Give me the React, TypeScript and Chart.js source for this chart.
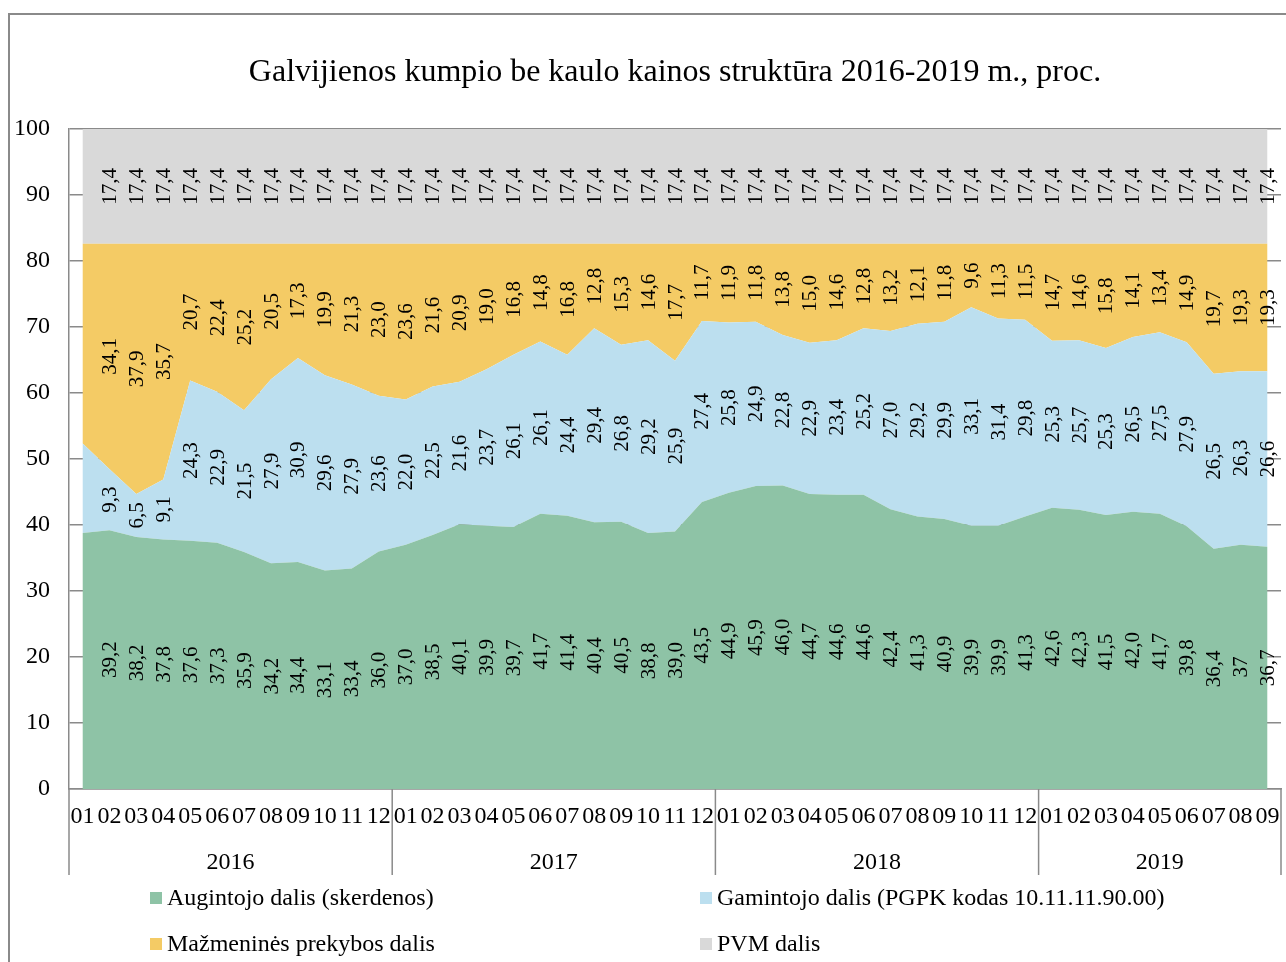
import { useEffect, useRef } from "react";
import { Chart, registerables } from "chart.js";

Chart.register(...registerables);

const FONT = "'Liberation Serif', 'Times New Roman', 'DejaVu Serif', serif";

const TITLE = "Galvijienos kumpio be kaulo kainos struktūra 2016-2019 m., proc.";

const months = [
  "01", "02", "03", "04", "05", "06", "07", "08", "09", "10", "11", "12",
  "01", "02", "03", "04", "05", "06", "07", "08", "09", "10", "11", "12",
  "01", "02", "03", "04", "05", "06", "07", "08", "09", "10", "11", "12",
  "01", "02", "03", "04", "05", "06", "07", "08", "09",
];

const years = ["2016", "2017", "2018", "2019"];
const monthsPerYear = [12, 12, 12, 9];

const seriesNames = [
  "Augintojo dalis (skerdenos)",
  "Gamintojo dalis (PGPK kodas 10.11.11.90.00)",
  "Mažmeninės prekybos dalis",
  "PVM dalis",
];

const augintojo = [
  38.8, 39.2, 38.2, 37.8, 37.6, 37.3, 35.9, 34.2, 34.4, 33.1, 33.4, 36.0,
  37.0, 38.5, 40.1, 39.9, 39.7, 41.7, 41.4, 40.4, 40.5, 38.8, 39.0, 43.5,
  44.9, 45.9, 46.0, 44.7, 44.6, 44.6, 42.4, 41.3, 40.9, 39.9, 39.9, 41.3,
  42.6, 42.3, 41.5, 42.0, 41.7, 39.8, 36.4, 37.0, 36.7,
];

const gamintojo = [
  13.6, 9.3, 6.5, 9.1, 24.3, 22.9, 21.5, 27.9, 30.9, 29.6, 27.9, 23.6,
  22.0, 22.5, 21.6, 23.7, 26.1, 26.1, 24.4, 29.4, 26.8, 29.2, 25.9, 27.4,
  25.8, 24.9, 22.8, 22.9, 23.4, 25.2, 27.0, 29.2, 29.9, 33.1, 31.4, 29.8,
  25.3, 25.7, 25.3, 26.5, 27.5, 27.9, 26.5, 26.3, 26.6,
];

const mazmenine = [
  30.2, 34.1, 37.9, 35.7, 20.7, 22.4, 25.2, 20.5, 17.3, 19.9, 21.3, 23.0,
  23.6, 21.6, 20.9, 19.0, 16.8, 14.8, 16.8, 12.8, 15.3, 14.6, 17.7, 11.7,
  11.9, 11.8, 13.8, 15.0, 14.6, 12.8, 13.2, 12.1, 11.8, 9.6, 11.3, 11.5,
  14.7, 14.6, 15.8, 14.1, 13.4, 14.9, 19.7, 19.3, 19.3,
];

const pvm = [
  17.4, 17.4, 17.4, 17.4, 17.4, 17.4, 17.4, 17.4, 17.4, 17.4, 17.4, 17.4,
  17.4, 17.4, 17.4, 17.4, 17.4, 17.4, 17.4, 17.4, 17.4, 17.4, 17.4, 17.4,
  17.4, 17.4, 17.4, 17.4, 17.4, 17.4, 17.4, 17.4, 17.4, 17.4, 17.4, 17.4,
  17.4, 17.4, 17.4, 17.4, 17.4, 17.4, 17.4, 17.4, 17.4,
];

// first month carries no value labels in the original
const unlabelledIndexes = [0];
// label text shown differently from the default one-decimal format
const labelOverrides: Record<string, string> = { "0-43": "37" };

const colors = ["#8EC3A6", "#BCDFEF", "#F4CB65", "#D9D9D9"];
const GRID = "#8a8a8a";

function formatValue(ds: number, i: number, v: number) {
  const key = ds + "-" + i;
  if (labelOverrides[key]) return labelOverrides[key];
  return v.toFixed(1).replace(".", ",");
}

const framePlugin = {
  id: "frame",
  beforeDraw(chart: any) {
    const ctx = chart.ctx;
    ctx.save();
    ctx.fillStyle = "#fff";
    ctx.fillRect(0, 0, chart.width, chart.height);
    ctx.strokeStyle = GRID;
    ctx.lineWidth = 2;
    ctx.beginPath();
    ctx.moveTo(9, chart.height);
    ctx.lineTo(9, 14);
    ctx.lineTo(chart.width, 14);
    ctx.stroke();
    ctx.restore();
  },
};

const valueLabelPlugin = {
  id: "valueLabels",
  afterDatasetsDraw(chart: any) {
    const ctx = chart.ctx;
    const yScale = chart.scales.y;
    const n = chart.data.labels.length;
    const base: number[] = [];
    for (let i = 0; i < n; i++) base.push(0);
    ctx.save();
    ctx.font = `21px ${FONT}`;
    ctx.fillStyle = "#000";
    ctx.textAlign = "center";
    ctx.textBaseline = "middle";
    chart.data.datasets.forEach((ds: any, di: number) => {
      const meta = chart.getDatasetMeta(di);
      ds.data.forEach((v: number, i: number) => {
        const lo = base[i];
        const hi = lo + v;
        base[i] = hi;
        if (unlabelledIndexes.includes(i)) return;
        const x = meta.data[i].x;
        const ym = (yScale.getPixelForValue(lo) + yScale.getPixelForValue(hi)) / 2;
        ctx.save();
        ctx.translate(x, ym);
        ctx.rotate(-Math.PI / 2);
        ctx.fillText(formatValue(di, i, v), 0, 1);
        ctx.restore();
      });
    });
    ctx.restore();
  },
};

const yearAxisPlugin = {
  id: "yearAxis",
  afterDraw(chart: any) {
    const ctx = chart.ctx;
    const xs = chart.scales.x;
    const area = chart.chartArea;
    const n = chart.data.labels.length;
    const top = area.bottom;
    const bottom = area.bottom + 86;
    ctx.save();
    ctx.setTransform(1, 0, 0, 1, 0, 0);
    ctx.strokeStyle = GRID;
    ctx.lineWidth = 1.5;
    ctx.fillStyle = "#000";
    ctx.font = `24px ${FONT}`;
    ctx.textAlign = "center";
    ctx.textBaseline = "alphabetic";
    let start = 0;
    const edge = (k: number) => {
      if (k <= 0) return area.left;
      if (k >= n) return area.right;
      return (xs.getPixelForTick(k - 1) + xs.getPixelForTick(k)) / 2;
    };
    years.forEach((yr, yi) => {
      const end = start + monthsPerYear[yi];
      const l = edge(start);
      const r = edge(end);
      ctx.beginPath();
      ctx.moveTo(l, top);
      ctx.lineTo(l, bottom);
      ctx.stroke();
      if (end >= n) {
        ctx.beginPath();
        ctx.moveTo(r, top);
        ctx.lineTo(r, bottom);
        ctx.stroke();
      }
      ctx.fillText(yr, (l + r) / 2, area.bottom + 80);
      start = end;
    });
    ctx.restore();
  },
};

const legendPlugin = {
  id: "gridLegend",
  afterDraw(chart: any) {
    const ctx = chart.ctx;
    const colX = [150, 700];
    const rowY = [898, 944];
    ctx.save();
    ctx.font = `24px ${FONT}`;
    ctx.textAlign = "left";
    ctx.textBaseline = "middle";
    seriesNames.forEach((name, i) => {
      const x = colX[i % 2];
      const y = rowY[Math.floor(i / 2)];
      ctx.fillStyle = colors[i];
      ctx.fillRect(x, y - 6, 12, 12);
      ctx.fillStyle = "#000";
      ctx.fillText(name, x + 17, y + 1);
    });
    ctx.restore();
  },
};

export default function App() {
  const ref = useRef<HTMLCanvasElement>(null);

  useEffect(() => {
    const seriesData = [augintojo, gamintojo, mazmenine, pvm];
    const chart = new Chart(ref.current as HTMLCanvasElement, {
      type: "line",
      data: {
        labels: months,
        datasets: seriesData.map((d, i) => ({
          label: seriesNames[i],
          data: d,
          backgroundColor: colors[i],
          borderColor: "rgba(0,0,0,0)",
          borderWidth: 0,
          pointRadius: 0,
          pointHoverRadius: 0,
          tension: 0,
          fill: i === 0 ? "origin" : "-1",
        })),
      },
      options: {
        animation: false,
        responsive: false,
        events: [],
        layout: { padding: { left: 0, right: 5, top: 0, bottom: 0 } },
        plugins: {
          legend: { display: false },
          tooltip: { enabled: false },
          title: {
            display: true,
            text: TITLE,
            fullSize: false,
            color: "#000",
            font: { family: FONT, size: 32, weight: "normal", lineHeight: 1.2 },
            padding: { top: 53, bottom: 37.6 },
          },
        },
        scales: {
          x: {
            offset: true,
            ticks: {
              color: "#000",
              font: { family: FONT, size: 24 },
              padding: 13,
              autoSkip: false,
              maxRotation: 0,
              minRotation: 0,
            },
            grid: { display: false, drawTicks: false },
            border: { display: true, color: GRID, width: 1.5 },
            afterFit: (s: any) => {
              s.height = 173;
              s.paddingLeft = 0;
              s.paddingRight = 0;
            },
          },
          y: {
            stacked: true,
            min: 0,
            max: 100,
            ticks: {
              stepSize: 10,
              color: "#000",
              font: { family: FONT, size: 24 },
              padding: 19,
            },
            grid: { color: GRID, lineWidth: 1.5, drawTicks: false },
            border: { display: true, color: GRID, width: 1.5 },
            afterFit: (s: any) => {
              s.width = 69;
            },
          },
        },
      } as any,
      plugins: [framePlugin, valueLabelPlugin, yearAxisPlugin, legendPlugin],
    });
    return () => chart.destroy();
  }, []);

  return (
    <div
      style={{
        position: "fixed",
        left: 0,
        top: 0,
        width: 1286,
        height: 962,
        background: "#fff",
        overflow: "hidden",
      }}
    >
      <canvas ref={ref} width={1286} height={962} style={{ display: "block" }} />
    </div>
  );
}
